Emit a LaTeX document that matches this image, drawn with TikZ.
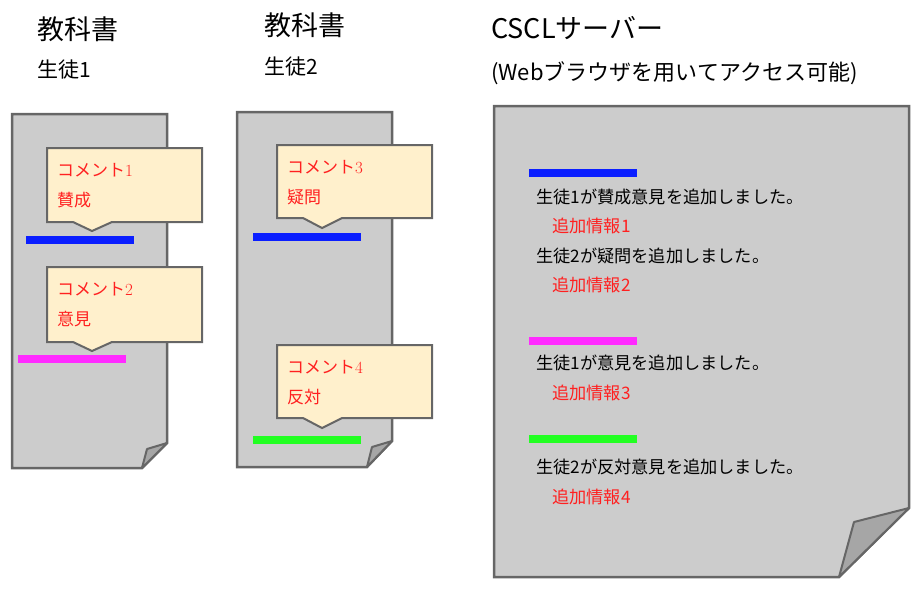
\documentclass[tikz,border=0pt]{standalone}
\usepackage{fontspec}
\setmainfont{Noto Sans CJK JP}
\newfontfamily\jpfont{Noto Sans CJK JP}
\newfontfamily\lmfont{Latin Modern Roman}
\definecolor{docgray}{HTML}{CCCCCC}
\definecolor{edgegray}{HTML}{666666}
\definecolor{foldgray}{HTML}{A6A6A6}
\definecolor{cream}{HTML}{FFF0CC}
\definecolor{txtred}{HTML}{FF2020}
\definecolor{mkblue}{HTML}{0A1EFF}
\definecolor{mkpink}{HTML}{FF2AFF}
\definecolor{mkgreen}{HTML}{22FF22}
\tikzset{
  docshape/.style={fill=docgray,draw=edgegray,line width=2.5pt,line join=miter},
  foldshape/.style={fill=foldgray,draw=edgegray,line width=2pt,line join=round},
  callout/.style={fill=cream,draw=edgegray,line width=2pt,line join=miter},
  marker/.style={line width=7.5pt},
  head/.style={anchor=west,inner sep=0pt,font=\fontsize{27}{30}\selectfont},
  sub/.style={anchor=west,inner sep=0pt,font=\fontsize{21}{24}\selectfont},
  sub2/.style={anchor=west,inner sep=0pt,font=\fontsize{22}{25}\selectfont},
  ctext/.style={anchor=west,inner sep=0pt,text=txtred,font=\fontsize{17}{20}\selectfont},
  stext/.style={anchor=west,inner sep=0pt,font=\fontsize{17.2}{20}\selectfont},
  rtext/.style={anchor=west,inner sep=0pt,text=txtred,font=\fontsize{17.2}{20}\selectfont},
}
\begin{document}
\begin{tikzpicture}[x=1pt,y=-1pt]
\useasboundingbox (0,0) rectangle (924,598);
% headings
\node[head] (h1) at (37,29) {教科書};
\node[sub] (s1) at (37,70) {生徒1};
\node[head] (h2) at (264,25) {教科書};
\node[sub] (s2) at (264,67) {生徒2};
\node[head] (h3) at (491,28) {CSCLサーバー};
\node[sub2] (s3) at (491,73) {(Webブラウザを用いてアクセス可能)};
% document 1
\draw[docshape] (12,114) -- (167,114) -- (167,443) -- (142,468) -- (12,468) -- cycle;
\draw[foldshape] (167,443) -- (147,449) -- (142,468) -- cycle;
% document 2
\draw[docshape] (237,112) -- (392,112) -- (392,441) -- (367,467) -- (237,467) -- cycle;
\draw[foldshape] (392,441) -- (372,447) -- (367,467) -- cycle;
% document 3 (server)
\draw[docshape] (494,106) -- (909,106) -- (909,508) -- (839,577) -- (494,577) -- cycle;
\draw[foldshape] (909,508) -- (854,522) -- (839,577) -- cycle;
% markers in textbooks
\draw[marker,mkblue] (26,240) -- (134,240);
\draw[marker,mkpink] (18,359) -- (126,359);
\draw[marker,mkblue] (253,237) -- (361,237);
\draw[marker,mkgreen] (253,440) -- (361,440);
% callouts
\draw[callout] (47,148) -- (202,148) -- (202,222) -- (112,222) -- (92,231) -- (73,222) -- (47,222) -- cycle;
\draw[callout] (47,267) -- (202,267) -- (202,342) -- (112,342) -- (92,351) -- (73,342) -- (47,342) -- cycle;
\draw[callout] (277,145) -- (432,145) -- (432,218) -- (342,218) -- (322,228) -- (303,218) -- (277,218) -- cycle;
\draw[callout] (277,345) -- (432,345) -- (432,418) -- (342,418) -- (322,428) -- (303,418) -- (277,418) -- cycle;
\node[ctext] (c1a) at (57,170) {コメント{\lmfont 1}};
\node[ctext] (c1b) at (57,200) {賛成};
\node[ctext] (c2a) at (57,289) {コメント{\lmfont 2}};
\node[ctext] (c2b) at (57,319) {意見};
\node[ctext] (c3a) at (287,167) {コメント{\lmfont 3}};
\node[ctext] (c3b) at (287,197) {疑問};
\node[ctext] (c4a) at (287,367) {コメント{\lmfont 4}};
\node[ctext] (c4b) at (287,397) {反対};
% server log
\draw[marker,mkblue] (529,173) -- (637,173);
\node[stext] (l1) at (536,197) {生徒1が賛成意見を追加しました。};
\node[rtext] (i1) at (552,226) {追加情報1};
\node[stext] (l2) at (536,256) {生徒2が疑問を追加しました。};
\node[rtext] (i2) at (552,285) {追加情報2};
\draw[marker,mkpink] (529,341) -- (637,341);
\node[stext] (l3) at (536,363) {生徒1が意見を追加しました。};
\node[rtext] (i3) at (552,393) {追加情報3};
\draw[marker,mkgreen] (529,439) -- (637,439);
\node[stext] (l4) at (536,467) {生徒2が反対意見を追加しました。};
\node[rtext] (i4) at (552,497) {追加情報4};
\end{tikzpicture}
\end{document}
